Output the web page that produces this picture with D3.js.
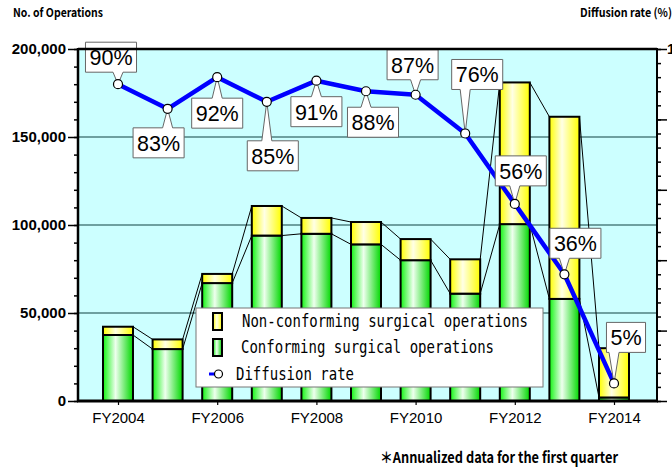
<!DOCTYPE html>
<html>
<head>
<meta charset="utf-8">
<script src="https://cdn.jsdelivr.net/npm/d3@7"></script>
<style>
body { margin: 0; background: #fff; }
svg { display: block; }
</style>
</head>
<body>
<svg id="chart" width="672" height="469"></svg>
<script>
// ---- data ----
var years = ["FY2004", "FY2005", "FY2006", "FY2007", "FY2008", "FY2009",
             "FY2010", "FY2011", "FY2012", "FY2013", "FY2014"];
var conforming    = [37500, 29500, 67000, 94000, 95000, 89000, 80000, 61000, 100500, 58000, 2000];
var nonConforming = [4700, 5500, 5200, 16800, 9000, 12700, 12000, 19500, 80500, 103500, 28000];
var diffusion     = [90, 83, 92, 85, 91, 88, 87, 76, 56, 36, 5];
var yearTicks = ["FY2004", "FY2006", "FY2008", "FY2010", "FY2012", "FY2014"];
var legendLabels = ["Non-conforming surgical operations", "Conforming surgical operations", "Diffusion rate"];

// callout box offsets from the point (layout only)
var labelOffsets = [[-7, -27], [-9, 34], [0, 36], [6, 54], [0, 31], [7, 31],
                    [-3, -30], [12, -59], [6, -33], [11, -31], [12, -46]];

var svg = d3.select("#chart");
var plotL = 78, plotR = 657, plotT = 49, plotB = 401;

var x = d3.scalePoint().domain(years).range([118, 614]);
var y = d3.scaleLinear().domain([0, 200000]).range([plotB, plotT]);
var yR = d3.scaleLinear().domain([0, 100]).range([plotB, plotT]);
var barW = 30;

var table = years.map(function(d, i) {
    return { year: d, conforming: conforming[i], nonConforming: nonConforming[i], rate: diffusion[i] };
});
var stacked = d3.stack().keys(["conforming", "nonConforming"])(table);

// gradients
var defs = svg.append("defs");
function grad(id, stops) {
    var g = defs.append("linearGradient").attr("id", id)
        .attr("x1", 0).attr("x2", 1).attr("y1", 0).attr("y2", 0);
    stops.forEach(function(s) {
        g.append("stop").attr("offset", s[0]).attr("stop-color", s[1]);
    });
}
grad("gGreen", [[0, "#11f511"], [0.42, "#eeffee"], [1, "#00d800"]]);
grad("gYellow", [[0, "#ffff00"], [0.42, "#ffffe6"], [1, "#ffff00"]]);

// plot background
svg.append("rect").attr("x", plotL).attr("y", plotT)
    .attr("width", plotR - plotL).attr("height", plotB - plotT)
    .attr("fill", "#ccffff");

// gridlines
svg.append("g").selectAll("line")
    .data([50000, 100000, 150000])
    .enter().append("line")
    .attr("x1", plotL).attr("x2", plotR)
    .attr("y1", function(d) { return y(d); })
    .attr("y2", function(d) { return y(d); })
    .attr("stroke", "#4f8080").attr("stroke-width", 1.5);

// series lines between bars
[0, 1].forEach(function(k) {
    var lay = stacked[k];
    for (var i = 0; i < lay.length - 1; i++) {
        svg.append("line")
            .attr("x1", x(years[i]) + barW / 2).attr("y1", y(lay[i][1]))
            .attr("x2", x(years[i + 1]) - barW / 2).attr("y2", y(lay[i + 1][1]))
            .attr("stroke", "#000").attr("stroke-width", 1);
    }
});

// bars
var fills = ["url(#gGreen)", "url(#gYellow)"];
svg.append("g").selectAll("g")
    .data(stacked)
    .enter().append("g")
    .attr("fill", function(d, i) { return fills[i]; })
    .selectAll("rect")
    .data(function(d) { return d; })
    .enter().append("rect")
    .attr("x", function(d) { return x(d.data.year) - barW / 2; })
    .attr("y", function(d) { return y(d[1]); })
    .attr("width", barW)
    .attr("height", function(d) { return y(d[0]) - y(d[1]); })
    .attr("stroke", "#000").attr("stroke-width", 2);

// diffusion line
var line = d3.line()
    .x(function(d) { return x(d.year); })
    .y(function(d) { return yR(d.rate); });
svg.append("path").datum(table)
    .attr("d", line)
    .attr("fill", "none").attr("stroke", "#0000ff").attr("stroke-width", 4.5)
    .attr("stroke-linejoin", "round");

// callouts
var cg = svg.append("g");
table.forEach(function(d, i) {
    var px = x(d.year), py = yR(d.rate);
    var cx = px + labelOffsets[i][0], cy = py + labelOffsets[i][1];
    var t = cg.append("text").attr("x", cx).attr("y", cy + 8)
        .attr("text-anchor", "middle")
        .attr("font-family", "Liberation Sans, Arial, sans-serif")
        .attr("font-size", 21.5).attr("fill", "#000")
        .text(d.rate + "%");
    var w = t.node().getComputedTextLength() + 8, h = 30;
    var l = cx - w / 2, r = cx + w / 2, tp = cy - h / 2, bt = cy + h / 2;
    var bc = Math.max(l + 7, Math.min(r - 7, px));
    var b1 = bc - 5, b2 = bc + 5, p;
    if (py > cy) {
        p = "M" + l + "," + tp + "H" + r + "V" + bt + "H" + b2 + "L" + px + "," + py +
            "L" + b1 + "," + bt + "H" + l + "Z";
    } else {
        p = "M" + l + "," + tp + "H" + b1 + "L" + px + "," + py + "L" + b2 + "," + tp +
            "H" + r + "V" + bt + "H" + l + "Z";
    }
    cg.insert("path", "text").attr("d", p)
        .attr("fill", "#fff").attr("stroke", "#666").attr("stroke-width", 1);
});

// markers
svg.append("g").selectAll("circle")
    .data(table)
    .enter().append("circle")
    .attr("cx", function(d) { return x(d.year); })
    .attr("cy", function(d) { return yR(d.rate); })
    .attr("r", 4.5)
    .attr("fill", "#fff").attr("stroke", "#000").attr("stroke-width", 1.2);

// plot frame
svg.append("line").attr("x1", plotL).attr("x2", plotR).attr("y1", plotT).attr("y2", plotT)
    .attr("stroke", "#000").attr("stroke-width", 2.5);

// left axis
var axL = svg.append("g").attr("transform", "translate(" + plotL + ",0)");
axL.call(d3.axisLeft(y).tickValues(d3.range(0, 200001, 10000)).tickSize(4).tickFormat(""));
var axL2 = svg.append("g").attr("transform", "translate(" + plotL + ",0)");
axL2.call(d3.axisLeft(y).tickValues(d3.range(0, 200001, 50000)).tickSize(10).tickPadding(2)
    .tickFormat(d3.format(",")));
svg.selectAll(".domain").remove();
[axL, axL2].forEach(function(a) {
    a.selectAll("line").attr("stroke", "#000").attr("stroke-width", 1.5);
    a.selectAll("text").attr("font-family", "Liberation Sans, Arial, sans-serif")
        .attr("font-size", 15).attr("font-weight", "bold").attr("fill", "#000");
});
svg.append("line").attr("x1", plotL).attr("x2", plotL).attr("y1", plotT - 1).attr("y2", plotB + 1)
    .attr("stroke", "#000").attr("stroke-width", 2.5);

// right axis
var axR = svg.append("g").attr("transform", "translate(" + plotR + ",0)");
axR.call(d3.axisRight(yR).tickValues(d3.range(0, 101, 4)).tickSize(4).tickFormat(""));
var axR2 = svg.append("g").attr("transform", "translate(" + plotR + ",0)");
axR2.call(d3.axisRight(yR).tickValues(d3.range(0, 101, 20)).tickSize(10).tickPadding(0)
    .tickFormat(function(d) { return d === 100 ? "100" : ""; }));
svg.selectAll(".domain").remove();
[axR, axR2].forEach(function(a) {
    a.selectAll("line").attr("stroke", "#000").attr("stroke-width", 1.5);
    a.selectAll("text").attr("font-family", "Liberation Sans, Arial, sans-serif")
        .attr("font-size", 15).attr("font-weight", "bold").attr("fill", "#000");
});
svg.append("line").attr("x1", plotR).attr("x2", plotR).attr("y1", plotT - 1).attr("y2", plotB + 1)
    .attr("stroke", "#000").attr("stroke-width", 2);

// bottom axis
var axB = svg.append("g").attr("transform", "translate(0," + plotB + ")");
axB.call(d3.axisBottom(x).tickValues(yearTicks).tickSize(4).tickPadding(7));
axB.selectAll(".domain").remove();
axB.selectAll("line").attr("stroke", "#000").attr("stroke-width", 1.2);
axB.selectAll("text").attr("font-family", "Liberation Sans, Arial, sans-serif")
    .attr("font-size", 15).attr("fill", "#000");
svg.append("line").attr("x1", plotL - 1).attr("x2", plotR + 1).attr("y1", plotB).attr("y2", plotB)
    .attr("stroke", "#000").attr("stroke-width", 3);

// legend
var lg = svg.append("g");
lg.append("rect").attr("x", 196).attr("y", 308).attr("width", 347).attr("height", 79)
    .attr("fill", "#fff").attr("stroke", "#777").attr("stroke-width", 1);
var legFills = ["url(#gYellow)", "url(#gGreen)"];
[0, 1].forEach(function(i) {
    lg.append("rect").attr("x", 213).attr("y", 313 + i * 26).attr("width", 9).attr("height", 17)
        .attr("fill", legFills[i]).attr("stroke", "#000").attr("stroke-width", 2);
});
lg.append("line").attr("x1", 209).attr("x2", 216).attr("y1", 374).attr("y2", 374)
    .attr("stroke", "#0000ff").attr("stroke-width", 3);
lg.append("circle").attr("cx", 218.5).attr("cy", 374).attr("r", 4)
    .attr("fill", "#fff").attr("stroke", "#000").attr("stroke-width", 1.2);
var legX = [242, 241, 236], legY = [327, 353, 380], legW = [286, 253, 118];
legendLabels.forEach(function(s, i) {
    lg.append("text").attr("x", legX[i]).attr("y", legY[i])
        .attr("font-family", "DejaVu Sans Mono, monospace").attr("font-size", 17)
        .attr("textLength", legW[i]).attr("lengthAdjust", "spacingAndGlyphs")
        .attr("fill", "#000").text(s);
});

// titles and note
function note(txt, xx, yy, len, size, wt) {
    svg.append("text").attr("x", xx).attr("y", yy)
        .attr("font-family", "Noto Sans CJK JP, sans-serif").attr("font-size", size)
        .attr("font-weight", wt)
        .attr("textLength", len).attr("lengthAdjust", "spacingAndGlyphs")
        .attr("fill", "#000").text(txt);
}
note("No. of Operations", 13, 17, 90, 12, "bold");
note("Diffusion rate (%)", 580, 17, 92, 12, "bold");
note("＊Annualized data for the first quarter", 380, 463, 238, 15, "bold");
</script>
</body>
</html>
